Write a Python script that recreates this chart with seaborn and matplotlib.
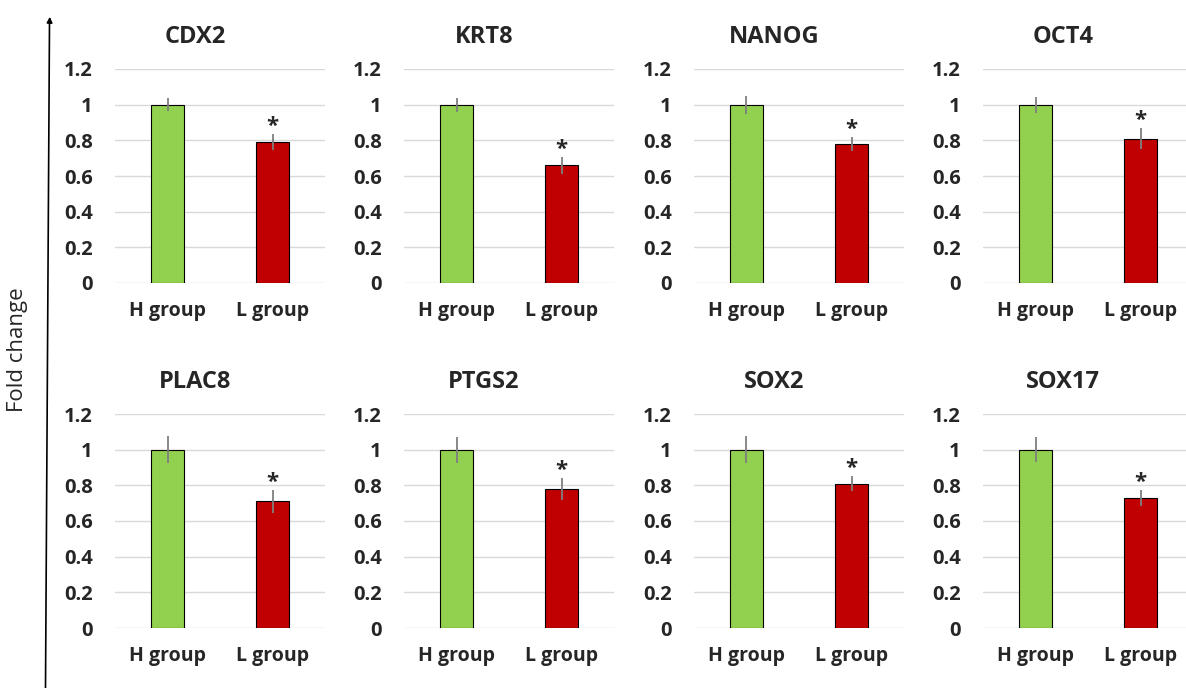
import numpy as np
import pandas as pd
from matplotlib import pyplot as plt
import seaborn as sns

genes = ["CDX2", "KRT8", "NANOG", "OCT4", "PLAC8", "PTGS2", "SOX2", "SOX17"]
groups = ["H group", "L group"]
h_mean = [1.0, 1.0, 1.0, 1.0, 1.0, 1.0, 1.0, 1.0]
l_mean = [0.79, 0.66, 0.78, 0.81, 0.71, 0.78, 0.81, 0.73]
h_err = [0.035, 0.04, 0.05, 0.045, 0.077, 0.073, 0.075, 0.07]
l_err = [0.045, 0.047, 0.04, 0.06, 0.065, 0.06, 0.04, 0.045]
yticks = [0, 0.2, 0.4, 0.6, 0.8, 1.0, 1.2]
ytick_labels = ["0", "0.2", "0.4", "0.6", "0.8", "1", "1.2"]

green = "#92D050"
red = "#C00000"

sns.set_style("white")
plt.rcParams['font.family'] = ['Open Sans', 'DejaVu Sans']

fig = plt.figure(figsize=(11.86, 6.88), dpi=100)
W, H = 1186, 688
lefts = [115, 404, 694, 983]
zeros = [283, 628]   # pixel row of y=0 for each row of panels
ax_w, ax_h = 210, 214

for i, g in enumerate(genes):
    r, c = divmod(i, 4)
    ax = fig.add_axes([lefts[c] / W, 1 - zeros[r] / H, ax_w / W, ax_h / H])
    df = pd.DataFrame({"group": groups, "fc": [h_mean[i], l_mean[i]]})
    sns.barplot(data=df, x="group", y="fc", hue="group", palette=[green, red],
                saturation=1, width=0.31, edgecolor="black", linewidth=0.8,
                errorbar=None, legend=False, ax=ax, zorder=3)
    ax.errorbar([0, 1], [h_mean[i], l_mean[i]], yerr=[h_err[i], l_err[i]],
                fmt="none", ecolor="#7f7f7f", elinewidth=1.3, capsize=0, zorder=4)
    # significance star above L group
    ax.annotate("*", xy=(1, l_mean[i] + l_err[i]), xytext=(0, -2),
                textcoords="offset points", ha="center", va="bottom",
                fontsize=16, fontweight="bold")
    ax.set_xlim(-0.5, 1.5)
    ax.set_ylim(0, 1.2)
    ax.set_yticks(yticks)
    ax.set_yticklabels(ytick_labels, fontsize=14.5, fontweight="bold")
    ax.set_xticks([0, 1])
    ax.set_xticklabels(groups, fontsize=14, fontweight="bold")
    ax.tick_params(axis="y", length=0, pad=16)
    ax.tick_params(axis="x", length=0, pad=13)
    ax.set_xlabel("")
    ax.set_ylabel("")
    ax.yaxis.grid(True, color="#d9d9d9", linewidth=1, zorder=0)
    ax.set_axisbelow(True)
    for s in ax.spines.values():
        s.set_visible(False)
    ax.text(0.38, 1.15, g, transform=ax.transAxes, ha="center", va="center",
            fontsize=17, fontweight="bold")

# y axis label with arrow
fig.text(18 / W, 1 - 350 / H, "Fold change", rotation=90, ha="center",
         va="center", fontsize=16)
fig.add_artist(plt.Line2D([45.5 / W, 49.5 / W], [0, 1 - 22 / H], color="black", lw=1.2))
plt.annotate("", xy=(50 / W, 1 - 14 / H), xytext=(49.5 / W, 1 - 24 / H),
             xycoords="figure fraction",
             arrowprops=dict(arrowstyle="-|>", color="black", lw=1.2,
                             mutation_scale=8))

plt.savefig("out.png", dpi=100)
